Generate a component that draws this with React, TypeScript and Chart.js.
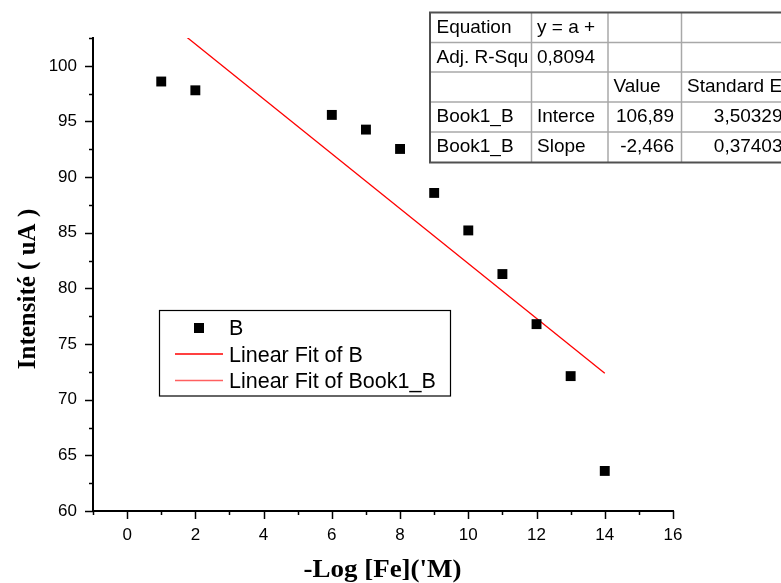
import React, { useEffect, useRef } from "react";
import { Chart, registerables } from "chart.js";

Chart.register(...registerables);

// ---- data ----
const xValues = [1, 2, 6, 7, 8, 9, 10, 11, 12, 13, 14];
const yValues = [98.59, 97.8, 95.59, 94.27, 92.53, 88.58, 85.21, 81.29, 76.79, 72.12, 63.6];
const fitX = [1, 14];
const fitY = [104.42, 72.37];
const xTicks = [0, 2, 4, 6, 8, 10, 12, 14, 16];
const yTicks = [60, 65, 70, 75, 80, 85, 90, 95, 100];
const xMinorTicks = [-1, 1, 3, 5, 7, 9, 11, 13, 15];
const yMinorTicks = [62.5, 67.5, 72.5, 77.5, 82.5, 87.5, 92.5, 97.5, 102.5];
const xTitle = "-Log [Fe]('M)";
const yTitle = "Intensité ( uA )";
const legendLabels = ["B", "Linear Fit of B", "Linear Fit of Book1_B"];
const tableRows = [
  ["Equation", "y = a +", "", ""],
  ["Adj. R-Squ", "0,8094", "", ""],
  ["", "", "Value", "Standard E"],
  ["Book1_B", "Interce", "106,89", "3,50329"],
  ["Book1_B", "Slope", "-2,466", "0,37403"],
];

const SANS = '"Liberation Sans", Arial, sans-serif';
const SERIF = '"Liberation Serif", "Times New Roman", serif';

const overlayPlugin = {
  id: "overlay",
  afterDraw(chart: any) {
    const ctx = chart.ctx as CanvasRenderingContext2D;
    const xs = chart.scales.x;
    const ys = chart.scales.y;
    const ca = chart.chartArea;
    ctx.save();

    // tick marks (outward)
    ctx.strokeStyle = "#000";
    ctx.lineWidth = 1.5;
    const yTick = (v: number, len: number) => {
      const y = Math.round(ys.getPixelForValue(v)) + 0.5;
      ctx.beginPath();
      ctx.moveTo(ca.left - len, y);
      ctx.lineTo(ca.left, y);
      ctx.stroke();
    };
    const xTick = (v: number, len: number) => {
      const x = Math.round(xs.getPixelForValue(v)) + 0.5;
      ctx.beginPath();
      ctx.moveTo(x, ca.bottom);
      ctx.lineTo(x, ca.bottom + len);
      ctx.stroke();
    };
    yTicks.forEach((v) => yTick(v, 8));
    yMinorTicks.forEach((v) => yTick(v, 4));
    xTicks.forEach((v) => xTick(v, 8));
    xMinorTicks.forEach((v) => xTick(v, 4));

    // axis titles
    ctx.fillStyle = "#000";
    ctx.font = `bold 26px ${SERIF}`;
    ctx.textAlign = "center";
    ctx.textBaseline = "alphabetic";
    {
      const w = ctx.measureText(xTitle).width;
      const sx = 158 / w;
      ctx.save();
      ctx.translate(382.5, 577);
      ctx.scale(sx, 1);
      ctx.fillText(xTitle, 0, 0);
      ctx.restore();
    }
    ctx.save();
    ctx.font = `bold 25px ${SERIF}`;
    ctx.translate(35, 289);
    ctx.rotate(-Math.PI / 2);
    ctx.fillText(yTitle, 0, 0);
    ctx.restore();

    // legend
    const lx = 159.5, ly = 310.5, lw = 291, lh = 85.5;
    ctx.lineWidth = 1.2;
    ctx.strokeStyle = "#000000";
    ctx.strokeRect(lx, ly, lw, lh);
    ctx.fillStyle = "#000000";
    ctx.fillRect(194, 323, 10, 10);
    ctx.lineWidth = 1.5;
    ctx.strokeStyle = "rgb(255, 0, 0)";
    ctx.beginPath();
    ctx.moveTo(175, 354);
    ctx.lineTo(223, 354);
    ctx.stroke();
    ctx.strokeStyle = "rgb(255, 96, 96)";
    ctx.beginPath();
    ctx.moveTo(175, 380.5);
    ctx.lineTo(223, 380.5);
    ctx.stroke();
    ctx.font = `21.5px ${SANS}`;
    ctx.textAlign = "left";
    ctx.fillStyle = "#000";
    const lBase = [334.5, 361.5, 387.5];
    legendLabels.forEach((t, i) => ctx.fillText(t, 229, lBase[i]));

    // table
    const colX = [430, 531.5, 608, 681.5, 790];
    const rowY = [12.5, 42.5, 72, 102, 132, 162.5];
    ctx.strokeStyle = "#a8a8a8";
    ctx.lineWidth = 1.5;
    for (let i = 1; i < rowY.length - 1; i++) {
      ctx.beginPath();
      ctx.moveTo(colX[0], rowY[i]);
      ctx.lineTo(colX[4], rowY[i]);
      ctx.stroke();
    }
    for (let j = 1; j < colX.length - 1; j++) {
      ctx.beginPath();
      ctx.moveTo(colX[j], rowY[0]);
      ctx.lineTo(colX[j], rowY[5]);
      ctx.stroke();
    }
    ctx.strokeStyle = "#505050";
    ctx.lineWidth = 2;
    ctx.beginPath();
    ctx.moveTo(colX[4], rowY[0]);
    ctx.lineTo(colX[0], rowY[0]);
    ctx.lineTo(colX[0], rowY[5]);
    ctx.lineTo(colX[4], rowY[5]);
    ctx.stroke();

    ctx.font = `19px ${SANS}`;
    ctx.fillStyle = "#000";
    tableRows.forEach((row, i) => {
      const base = rowY[i] + 20;
      row.forEach((txt, j) => {
        if (!txt) return;
        const numeric = i >= 3 && j >= 2;
        ctx.save();
        ctx.beginPath();
        ctx.rect(colX[j], rowY[i], colX[j + 1] - colX[j], rowY[i + 1] - rowY[i]);
        ctx.clip();
        if (numeric) {
          ctx.textAlign = "right";
          ctx.fillText(txt, colX[j + 1] - 7.5, base);
        } else {
          ctx.textAlign = "left";
          ctx.fillText(txt, colX[j] + (j === 0 ? 6.5 : 5.5), base);
        }
        ctx.restore();
      });
    });

    ctx.restore();
  },
};

export default function App() {
  const ref = useRef<HTMLCanvasElement>(null);
  useEffect(() => {
    if (!ref.current) return;
    const tickFont = { family: SANS, size: 17 };
    const chart = new Chart(ref.current, {
      type: "scatter",
      data: {
        datasets: [
          {
            label: "B",
            data: xValues.map((x, i) => ({ x, y: yValues[i] })),
            pointStyle: "rect",
            pointRadius: 7,
            pointBorderWidth: 0,
            backgroundColor: "#000",
            borderColor: "#000",
            showLine: false,
          },
          {
            label: "Linear Fit of B",
            data: fitX.map((x, i) => ({ x, y: fitY[i] })),
            showLine: true,
            borderColor: "#ff0000",
            borderWidth: 1.3,
            pointRadius: 0,
            backgroundColor: "#ff0000",
          },
        ],
      },
      options: {
        animation: false,
        responsive: false,
        devicePixelRatio: 1,
        layout: { padding: { left: 0, top: 38, right: 108, bottom: 0 } },
        plugins: { legend: { display: false }, tooltip: { enabled: false } },
        scales: {
          x: {
            type: "linear",
            min: -1,
            max: 16,
            grid: { display: false, drawTicks: false },
            border: { display: true, color: "#000", width: 2 },
            ticks: { padding: 14, font: tickFont, color: "#000", maxRotation: 0 },
            afterBuildTicks: (s: any) => {
              s.ticks = xTicks.map((v) => ({ value: v }));
            },
            afterFit: (s: any) => {
              s.height = 72;
            },
          },
          y: {
            type: "linear",
            min: 60,
            max: 102.5,
            grid: { display: false, drawTicks: false },
            border: { display: true, color: "#000", width: 2 },
            ticks: { padding: 16, font: tickFont, color: "#000" },
            afterBuildTicks: (s: any) => {
              s.ticks = yTicks.map((v) => ({ value: v }));
            },
            afterFit: (s: any) => {
              s.width = 93;
            },
          },
        },
      } as any,
      plugins: [overlayPlugin],
    });
    return () => chart.destroy();
  }, []);
  return (
    <div style={{ position: "fixed", left: 0, top: 0, width: 781, height: 583, background: "#fff" }}>
      <canvas ref={ref} width={781} height={583} style={{ display: "block" }} />
    </div>
  );
}
